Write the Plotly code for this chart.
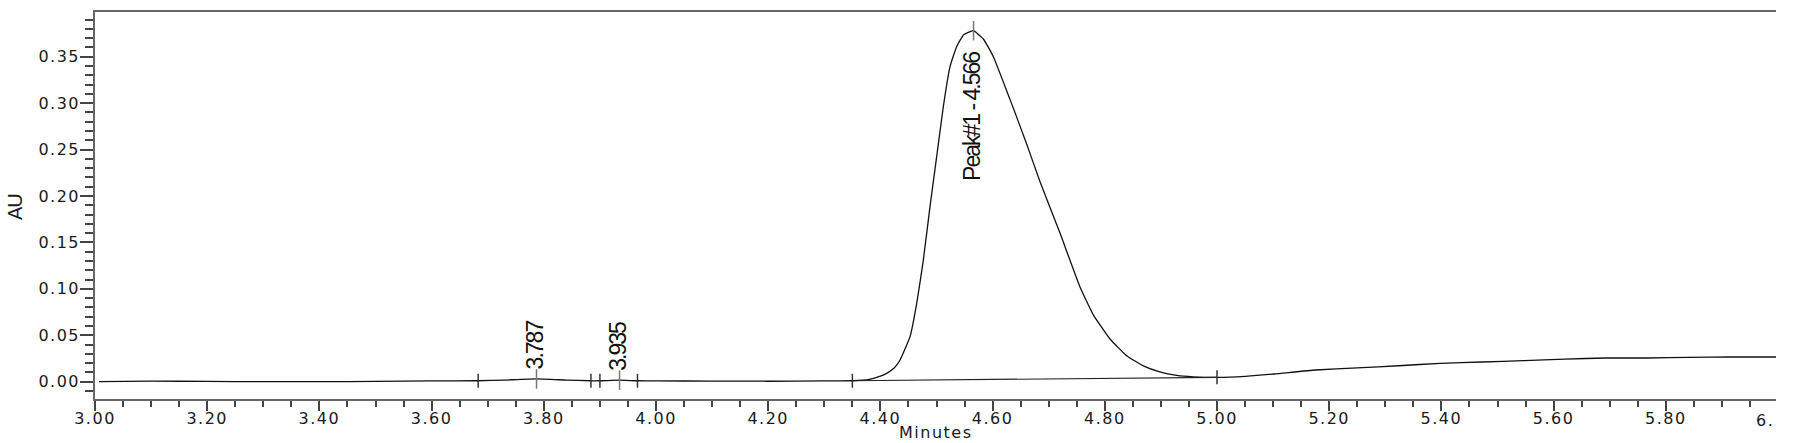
import numpy as np
import plotly.graph_objects as go

# Chromatogram trace (minutes, AU)
time_min = [3.007, 3.10, 3.20, 3.30, 3.40, 3.50, 3.60, 3.683, 3.73, 3.787, 3.84, 3.884,
            3.90, 3.935, 3.967, 4.00, 4.10, 4.20, 4.30, 4.35, 4.38, 4.40, 4.411, 4.425,
            4.435, 4.4528, 4.4647, 4.4765, 4.4884, 4.5003, 4.5121, 4.524, 4.536, 4.548, 4.560,
            4.566, 4.5835, 4.6013, 4.631, 4.6607, 4.6845, 4.7201, 4.7558, 4.7795, 4.8093,
            4.839, 4.8687, 4.898, 4.928, 4.958, 5.000, 5.05, 5.102, 5.176, 5.25, 5.324,
            5.398, 5.472, 5.546, 5.62, 5.694, 5.767, 5.841, 5.915, 6.00]
absorbance = [0.0000, 0.0006, 0.0003, 0.0000, 0.0000, 0.0004, 0.0008, 0.0010, 0.0018, 0.0030,
              0.0018, 0.0010, 0.0010, 0.0016, 0.0010, 0.0009, 0.0006, 0.0005, 0.0008, 0.0010,
              0.0025, 0.0060, 0.0090, 0.0150, 0.0234, 0.0485, 0.0844, 0.1310, 0.1885, 0.2423,
              0.2960, 0.3390, 0.3610, 0.3734, 0.3770, 0.3780, 0.3690, 0.3500, 0.3040, 0.2560,
              0.2154, 0.1600, 0.1020, 0.0720, 0.0460, 0.0280, 0.0170, 0.0105, 0.0068, 0.0053,
              0.0047, 0.0058, 0.0083, 0.0126, 0.0148, 0.0172, 0.0198, 0.0212, 0.0226, 0.0244,
              0.0255, 0.0255, 0.0262, 0.0266, 0.0266]

# Integration events
peak_times = [3.787, 3.935, 4.566]
peak_labels = ["3.787", "3.935", "Peak#1 - 4.566"]
boundary_times = [3.683, 3.884, 3.900, 3.967, 4.35, 5.00]
baseline_start, baseline_end = 4.35, 5.00

x_tick_vals = [3.0 + 0.2 * i for i in range(15)]
x_tick_text = [f"{v:.2f}" for v in x_tick_vals]
y_tick_vals = [0.05 * i for i in range(8)]
y_tick_text = [f"{v:.2f}" for v in y_tick_vals]
x_title, y_title = "Minutes", "AU"


def spaced(text, px):
    return f'<span style="letter-spacing:{px}px">{text}</span>'


TICK_FONT = dict(family="DejaVu Sans, Liberation Sans, Arial", size=16, color="#1a1a1a")
NARROW = "Liberation Sans, Arial, sans-serif"

fig = go.Figure()

fig.add_trace(go.Scatter(x=time_min, y=absorbance, mode="lines",
                         line=dict(color="#111111", width=1.3, shape="spline", smoothing=0.4),
                         showlegend=False, hoverinfo="x+y"))

# Baseline under the main peak
bx = [baseline_start, baseline_end]
by = list(np.interp(bx, time_min, absorbance))
fig.add_trace(go.Scatter(x=bx, y=by, mode="lines", line=dict(color="#222222", width=1.2),
                         showlegend=False, hoverinfo="skip"))

# Boundary markers
for t in boundary_times:
    yc = float(np.interp(t, time_min, absorbance))
    fig.add_trace(go.Scatter(x=[t, t], y=[yc - 0.0075, yc + 0.0075], mode="lines",
                             line=dict(color="#333333", width=1.5),
                             showlegend=False, hoverinfo="skip"))

# Peak apex markers and labels
for t, lab in zip(peak_times, peak_labels):
    yc = float(np.interp(t, time_min, absorbance))
    fig.add_trace(go.Scatter(x=[t, t], y=[yc - 0.0105, yc + 0.0105], mode="lines",
                             line=dict(color="#777777", width=1.5),
                             showlegend=False, hoverinfo="skip"))
    dy = -0.092 if lab.startswith("Peak") else 0.037
    fig.add_annotation(x=t - 0.003, y=yc + dy, xref="x", yref="y", text=spaced(lab, -2),
                       textangle=-90, showarrow=False, xanchor="center", yanchor="middle",
                       font=dict(family=NARROW, size=23, color="#111111"))

# Clipped last tick label
fig.add_annotation(x=1.0, y=0, xref="paper", yref="paper", text=spaced("6.", 1.5), showarrow=False,
                   xanchor="right", yanchor="top", yshift=-10, font=TICK_FONT)

# Axis titles
fig.add_annotation(x=0.5, y=0, xref="paper", yref="paper", text=spaced(x_title, 1.5),
                   showarrow=False, xanchor="center", yanchor="bottom", yshift=-44,
                   borderpad=0,
                   font=dict(family="DejaVu Sans, Liberation Sans", size=16, color="#1a1a1a"))
fig.add_annotation(x=0, y=0.496, xref="paper", yref="paper", text=spaced(y_title, -1),
                   showarrow=False, xanchor="center", yanchor="middle", xshift=-80, textangle=-90,
                   font=dict(family=NARROW, size=20, color="#1a1a1a"))

fig.update_layout(
    width=1801, height=443,
    margin=dict(l=95, r=25, t=12, b=44, autoexpand=False),
    paper_bgcolor="white", plot_bgcolor="white",
    xaxis=dict(range=[3.0, 5.9964], tickmode="array", tickvals=x_tick_vals,
               ticktext=[spaced(s, 1.5) for s in x_tick_text], automargin=False,
               ticks="outside", ticklen=10, tickwidth=1.5, tickcolor="#444444",
               ticklabelstandoff=-6,
               showline=True, linecolor="#666666", linewidth=1.5, mirror=True,
               showgrid=False, zeroline=False, tickfont=TICK_FONT,
               minor=dict(dtick=0.05, tick0=3.0, ticks="outside", ticklen=6, tickwidth=1.5,
                          tickcolor="#444444", showgrid=False)),
    yaxis=dict(range=[-0.01863, 0.3981], tickmode="array", tickvals=y_tick_vals,
               ticktext=[spaced(s, 1.5) for s in y_tick_text], automargin=False,
               ticks="outside", ticklen=13, tickwidth=1.5, tickcolor="#444444",
               ticklabelstandoff=-3,
               showline=True, linecolor="#666666", linewidth=1.5, mirror=False,
               showgrid=False, zeroline=False, tickfont=TICK_FONT,
               minor=dict(dtick=0.01, tick0=0.0, ticks="outside", ticklen=8, tickwidth=1.5,
                          tickcolor="#444444", showgrid=False)),
)

fig.write_html("out.html", config={"displayModeBar": False},
               post_script="document.body.style.margin='0';")
